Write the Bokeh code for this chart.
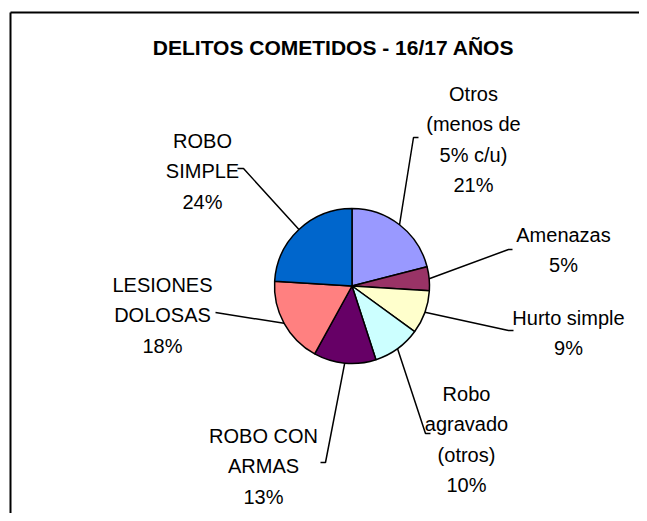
import math
from bokeh.plotting import figure
from bokeh.models import Range1d, ColumnDataSource
from bokeh.core.properties import value
from bokeh.embed import file_html
from bokeh.resources import INLINE

# ---------------- data ----------------
title_text = "DELITOS COMETIDOS - 16/17 AÑOS"
categories = ["Otros\n(menos de\n5% c/u)", "Amenazas", "Hurto simple",
              "Robo\nagravado\n(otros)", "ROBO CON\nARMAS", "LESIONES\nDOLOSAS",
              "ROBO\nSIMPLE"]
percent = [21, 5, 9, 10, 13, 18, 24]
colors = ["#9999FF", "#993366", "#FFFFCC", "#CCFFFF", "#660066", "#FF8080", "#0066CC"]

# ---------------- layout (screenshot pixels) ----------------
FIG_W, FIG_H = 639, 513
cx, cy, R = 351.5, 285.5, 77.5
label_anchor = [(473, 93), (563, 234), (568, 317), (466, 393),
                (263, 435), (162, 284), (202, 140)]
leader_elbow = [(413, 137), (508, 249), (508, 330), (425, 433),
                (325, 462), (215, 312), (243, 168)]
leader_end = [(418, 137), (512, 249), (513, 330), (430, 433),
              (320, 462), (215, 312), (237, 168)]
LINE_H = 30.5


def Y(py):
    return FIG_H - py


p = figure(width=FIG_W, height=FIG_H, output_backend="svg", toolbar_location=None,
           x_range=Range1d(0, FIG_W), y_range=Range1d(0, FIG_H),
           x_axis_type=None, y_axis_type=None, min_border=0)
p.outline_line_color = None
p.grid.visible = False
p.background_fill_color = "white"
p.border_fill_color = "white"

# frame
p.line([10, 10], [Y(12), Y(FIG_H + 5)], line_color="black", line_width=2)
p.line([10, FIG_W + 5], [Y(12), Y(12)], line_color="black", line_width=2)

# pie
total = float(sum(percent))
starts, ends, mids = [], [], []
cum = 0.0
for v in percent:
    a0 = cum / total
    cum += v
    a1 = cum / total
    starts.append(math.pi / 2 - 2 * math.pi * a0)
    ends.append(math.pi / 2 - 2 * math.pi * a1)
    mids.append(2 * math.pi * (a0 + a1) / 2)

src = ColumnDataSource(dict(start=starts, end=ends, color=colors))
p.wedge(x=cx, y=Y(cy), radius=R, start_angle="start", end_angle="end",
        direction="clock", fill_color="color", line_color="black",
        line_width=1.5, source=src)

# leader lines
for i, m in enumerate(mids):
    ex = cx + R * math.sin(m)
    ey = cy - R * math.cos(m)
    xs = [ex, leader_elbow[i][0], leader_end[i][0]]
    ys = [Y(ey), Y(leader_elbow[i][1]), Y(leader_end[i][1])]
    p.line(xs, ys, line_color="black", line_width=1.5)

# labels
tx, ty, tt = [], [], []
for i, cat in enumerate(categories):
    lines = cat.split("\n") + [f"{percent[i]}%"]
    ax, ay = label_anchor[i]
    for k, s in enumerate(lines):
        tx.append(ax)
        ty.append(Y(ay + k * LINE_H))
        tt.append(s)
p.text(x=tx, y=ty, text=tt, text_align="center", text_baseline="middle",
       text_font=value("Liberation Sans"), text_font_size="20px",
       text_color="black")

# title
p.text(x=[333], y=[Y(47)], text=[title_text], text_align="center",
       text_baseline="middle", text_font=value("Liberation Sans"),
       text_font_size="21px", text_font_style="bold", text_color="black")

open("out.html", "w").write(file_html(p, INLINE))
